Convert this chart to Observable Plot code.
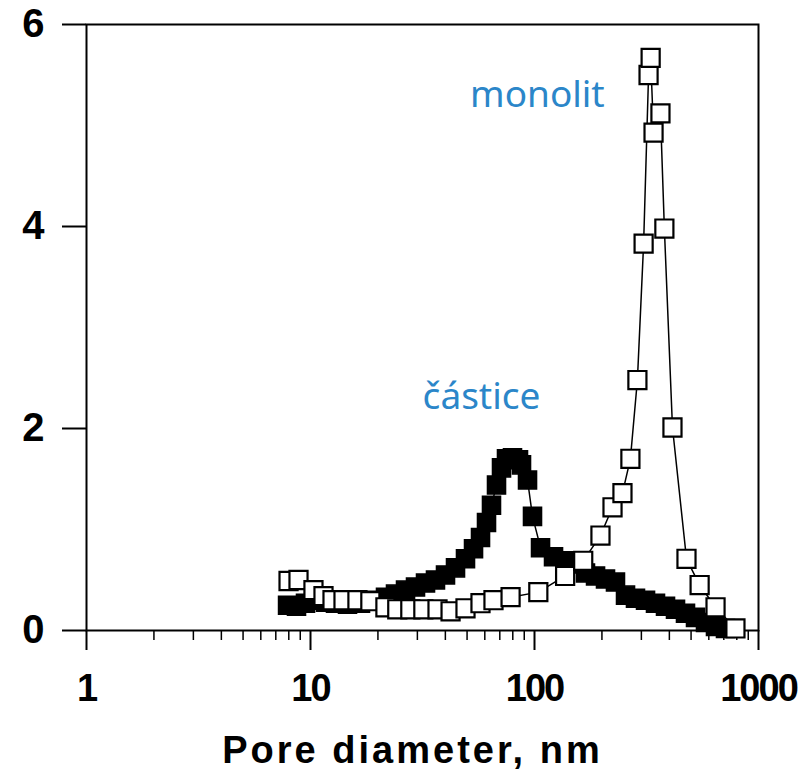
<!DOCTYPE html>
<html><head><meta charset="utf-8">
<script src="https://cdn.jsdelivr.net/npm/d3@7"></script>
<script src="https://cdn.jsdelivr.net/npm/@observablehq/plot@0.6"></script>
<style>
body{margin:0;background:#fff;}
#chart svg{display:block;}
</style></head>
<body><div id="chart"></div>
<script>
// monolit (open squares)
const monolitD = [7.98,8.84,10.31,11.43,12.54,14.04,16.2,18.5,21.6,24.4,27.9,31.9,36.9,42.2,49.2,57.4,65.6,78.2,104,137,165,197,223,247,268,288,307,323,330,340,365,380,413,477,546,643,789];
const monolitV = [0.49,0.50,0.40,0.34,0.30,0.30,0.30,0.29,0.23,0.21,0.21,0.21,0.21,0.19,0.22,0.27,0.30,0.33,0.38,0.54,0.69,0.94,1.22,1.36,1.70,2.48,3.83,5.50,5.67,4.93,5.12,3.98,2.01,0.71,0.45,0.23,0.02];
// částice (filled squares)
const casticeD = [7.90,8.66,9.50,10.53,11.67,12.93,14.63,16.72,18.92,21.62,23.96,26.56,29.43,32.62,36.14,40.06,44.40,49.20,53.43,57.41,61.06,64.27,67.67,71.24,74.99,79.76,84.83,87.50,93.08,97.97,106.4,121.6,140.4,152.4,168.9,187.3,207.5,229.9,254.9,282.4,313.1,346.9,384.5,426.1,472.2,523.4,580.0,642.7,712.3];
const casticeV = [0.25,0.24,0.27,0.30,0.28,0.27,0.26,0.27,0.30,0.33,0.36,0.40,0.43,0.47,0.50,0.55,0.62,0.71,0.81,0.92,1.07,1.24,1.44,1.61,1.70,1.71,1.69,1.64,1.49,1.13,0.82,0.73,0.69,0.66,0.57,0.54,0.51,0.48,0.35,0.32,0.30,0.27,0.24,0.21,0.17,0.13,0.08,0.04,0.02];

const xTicks = [1,10,100,1000];
const xMinor = [2,3,4,5,6,7,8,9,20,30,40,50,60,70,80,90,200,300,400,500,600,700,800,900];
const yTicks = [0,2,4,6];
const xLabel = "Pore diameter, nm";

const seriesNames = ["monolit","částice"];
const seriesLabelD = [103,58];
const seriesLabelV = [5.30,2.31];

const monolit = monolitD.map((d,i)=>({d, v: monolitV[i]}));
const castice = casticeD.map((d,i)=>({d, v: casticeV[i]}));
const labels = seriesNames.map((name,i)=>({name, d: seriesLabelD[i], v: seriesLabelV[i]}));

const chart = Plot.plot({
  width: 799,
  height: 776,
  marginTop: 24,
  marginLeft: 86,
  marginRight: 41,
  marginBottom: 146,
  style: {fontFamily: "'Liberation Sans', Arial, sans-serif", background: "#fff", color: "#000"},
  x: {type: "log", domain: [1,1000]},
  y: {domain: [0,6]},
  marks: [
    Plot.axisY({ticks: yTicks, tickSize: 24, tickPadding: 20, strokeWidth: 2, fontSize: 40, fontWeight: "bold", tickFormat: d => String(d), label: null}),
    Plot.axisX(xMinor, {tickSize: 10, strokeWidth: 1.5, tickFormat: () => "", label: null}),
    Plot.axisX({ticks: xTicks, tickSize: 20, tickPadding: 24, strokeWidth: 2, fontSize: 38, fontWeight: "bold", tickFormat: d => String(d), label: null}),
    Plot.text([xLabel], {frameAnchor: "bottom", text: d => d, dy: 132, dx: -10, fontSize: 38, fontWeight: "bold", fill: "#000"}),
    Plot.frame({stroke: "#000", strokeWidth: 2}),
    Plot.line(castice, {x: "d", y: "v", stroke: "#000", strokeWidth: 1.5}),
    Plot.line(monolit, {x: "d", y: "v", stroke: "#000", strokeWidth: 1.5}),
    Plot.dot(castice, {x: "d", y: "v", symbol: "square", r: 10.2, fill: "#000", stroke: "#000", strokeWidth: 1.5}),
    Plot.dot(monolit, {x: "d", y: "v", symbol: "square", r: 10.2, fill: "#fff", stroke: "#000", strokeWidth: 2.2}),
    Plot.text(labels, {x: "d", y: "v", text: "name", fill: "#2B86C9", fontSize: 37, fontFamily: "'Noto Sans', sans-serif"})
  ]
});
document.getElementById("chart").appendChild(chart);
chart.querySelectorAll("text").forEach(t => {
  const s = t.textContent;
  if (s === xLabel) { t.style.letterSpacing = "3px"; }
  else if (/^\d+$/.test(s)) { t.style.letterSpacing = "-2px"; }
});
</script>
</body></html>
